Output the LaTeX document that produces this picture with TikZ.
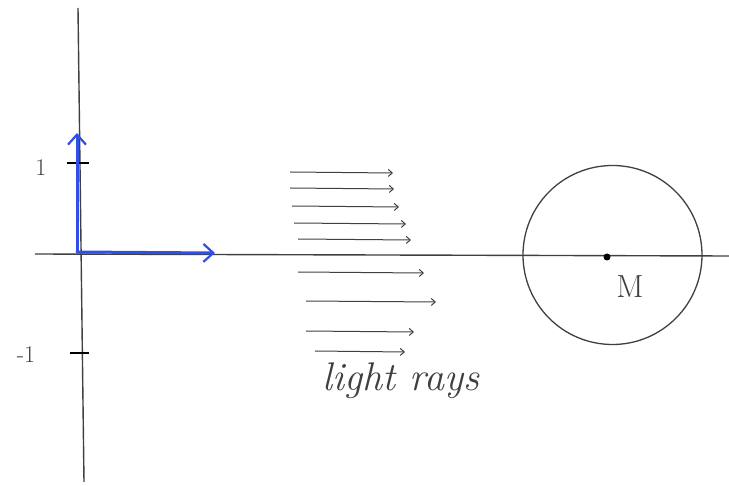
\documentclass[tikz,border=0pt]{standalone}
\usetikzlibrary{arrows.meta}
\definecolor{ink}{HTML}{404040}
\definecolor{bluepen}{HTML}{2F4FE6}
\tikzset{
  axis/.style={draw=ink, line width=1.4pt},
  ray/.style={draw=ink, line width=1pt, -{Straight Barb[length=4pt,width=7pt]}},
  bluearrow/.style={draw=bluepen, line width=3pt, line cap=round, -{Straight Barb[length=10pt,width=18pt,line width=2.2pt]}},
  tick/.style={draw=black, line width=2pt},
  hand/.style={text=ink, inner sep=0pt},
}
\begin{document}
\begin{tikzpicture}[x=1pt,y=-1pt]
\useasboundingbox (0,0) rectangle (729,486);
% axes
\coordinate (vtop) at (78,8);
\coordinate (vbot) at (84,482);
\coordinate (hleft) at (35,254);
\coordinate (hright) at (729,256);
\draw[axis] (vtop) -- (vbot);
\draw[axis] (hleft) -- (hright);
% ticks
\coordinate (t1a) at (67,163); \coordinate (t1b) at (89,163);
\coordinate (t2a) at (70,353); \coordinate (t2b) at (89,353);
\draw[tick] (t1a) -- (t1b);
\draw[tick] (t2a) -- (t2b);
\node[hand, font=\fontsize{24}{24}\selectfont] (one) at (41,168) {1};
\node[hand, font=\fontsize{24}{24}\selectfont] (mone) at (26,355) {-1};
% blue basis arrows
\coordinate (o) at (77,252);
\coordinate (ey) at (77,133);
\coordinate (ex) at (215,253);
\draw[bluearrow] (o) -- (ey);
\draw[bluearrow] (o) -- (ex);
% light rays
\foreach \i/\xa/\xb/\yy in {1/290/393/172, 2/290/394/188, 3/292/399/206, 4/294/406/223, 5/298/411/239, 6/298/424/272, 7/306/436/301, 8/306/414/331, 9/315/405/351}{
  \coordinate (ra\i) at (\xa,\yy);
  \coordinate (rb\i) at (\xb,\yy+1);
  \draw[ray] (ra\i) -- (rb\i);
}
\node[hand, font=\fontsize{40}{40}\selectfont\itshape] (lr) at (401,381) {light rays};
% mass
\node[draw=ink, line width=1.3pt, circle, minimum size=179pt, inner sep=0pt] (ball) at (612.5,255) {};
\node[circle, fill=black, minimum size=7pt, inner sep=0pt] (mdot) at (607,257) {};
\node[hand, font=\fontsize{32}{32}\selectfont] (mlab) at (630,287) {M};
\end{tikzpicture}
\end{document}
